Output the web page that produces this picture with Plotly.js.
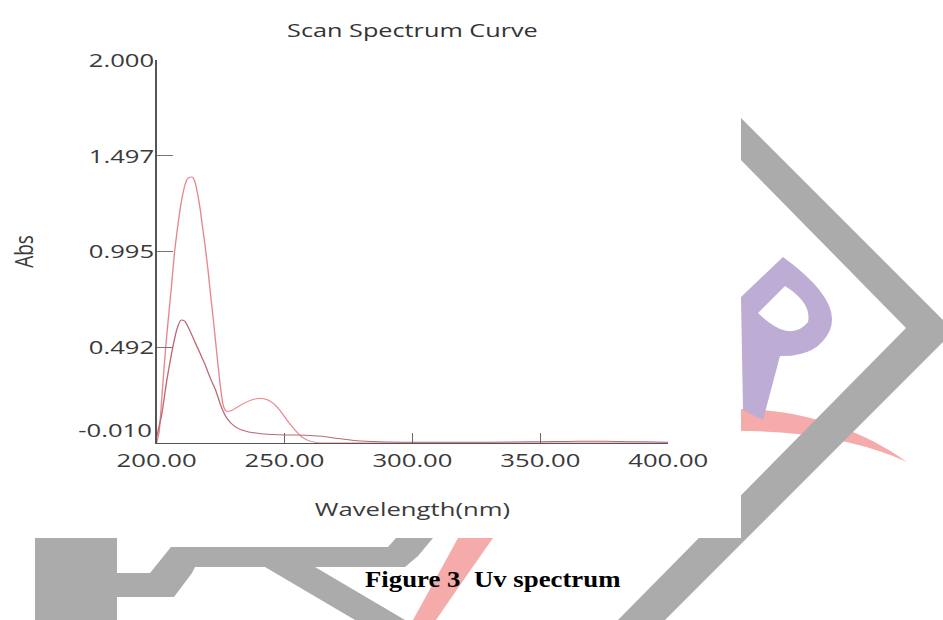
<!DOCTYPE html>
<html><head><meta charset="utf-8">
<script src="https://cdn.plot.ly/plotly-3.0.1.min.js"></script>
<style>
html,body{margin:0;padding:0;background:#fff;width:943px;height:620px;overflow:hidden;}
#wm{position:absolute;left:0;top:0;}
#box{position:absolute;left:0;top:0;width:741px;height:538px;background:#fff;overflow:hidden;}
#chart{position:absolute;left:0;top:0;width:549px;height:538px;transform:scaleX(1.35);transform-origin:0 0;}
#cap{position:absolute;left:365px;top:566px;font-family:"Liberation Serif","Times New Roman",serif;font-weight:bold;font-size:23.5px;white-space:pre;color:#000;transform:scaleX(1.14);transform-origin:0 0;}
</style></head>
<body>
<svg id="wm" width="943" height="620" viewBox="0 0 943 620">
  <path d="M741,409 C800,410 860,428 907,462 C860,440 800,431 741,431 Z" fill="#f6abab"/>
  <path fill-rule="evenodd" fill="#bdacd4" d="M741,297 L783,257 Q842,300 830,330 Q818,357 780,356 L763,420 L743,410 L741,297 Z M785,286 L758,313 Q790,344 808,322 Q812,303 785,286 Z"/>
  <path d="M741,118 L943,320 L943,342 L665,620 L618,620 L906,328 L741,160 Z" fill="#ababab"/>
  <rect x="35" y="538" width="82" height="82" fill="#ababab"/>
  <path d="M117,573 L150,573 L171,547 L388,547 L396,538 L433,538 L418,556 L405,567 L195,567 L192,573 L174,597 L117,597 Z" fill="#ababab"/>
  <path d="M265,567 L315,567 L405,620 L355,620 Z" fill="#ababab"/>
  <path d="M458,538 L493,538 Q460,585 436,620 L413,620 Q435,580 458,538 Z" fill="#f6abab"/>
</svg>
<div id="box"><div id="chart"></div></div>
<div id="cap">Figure 3  Uv spectrum</div>
<script>
// Series 1 (tall peak)
const wlA = [200,201,202,203,204,205,206,207,208,209,210,211,212,213,214,215,216,217,218,219,220,221,222,223,224,225,226,227,228,230,233,236,239,242,245,248,251,254,257,260,263,266,270,280,300,320,340,360,380,400];
const absA = [-0.01,0.05,0.22,0.40,0.56,0.70,0.84,0.99,1.10,1.20,1.28,1.34,1.375,1.385,1.385,1.36,1.30,1.22,1.12,1.02,0.91,0.78,0.66,0.53,0.40,0.28,0.19,0.16,0.155,0.165,0.19,0.21,0.222,0.222,0.205,0.165,0.11,0.06,0.02,0.0,-0.008,-0.01,-0.01,-0.01,-0.01,-0.01,-0.01,-0.01,-0.01,-0.01];
// Series 2 (lower peak)
const wlB = [200,202,204,206,208,209.5,211,213,215,217,219,221,223,225,227,229,232,236,240,245,250,255,260,265,270,275,280,290,300,320,340,350,360,370,380,390,400];
const absB = [0.02,0.14,0.32,0.47,0.59,0.635,0.63,0.58,0.52,0.46,0.40,0.33,0.27,0.19,0.13,0.095,0.065,0.048,0.04,0.035,0.032,0.032,0.03,0.025,0.015,0.007,0.0,-0.005,-0.006,-0.006,-0.005,-0.003,-0.002,-0.001,-0.002,-0.004,-0.006];
// Axis ticks
const xTickVals = [200,250,300,350,400];
const xTickText = ['200.00','250.00','300.00','350.00','400.00'];
const yTickVals = [-0.010,0.492,0.995,1.497,2.000];
const yTickText = ['-0.010','0.492','0.995','1.497','2.000'];

const font = 'Open Sans, Noto Sans, sans-serif';
const traces = [
  {x: wlA, y: absA, type:'scatter', mode:'lines', line:{color:'#e8868c', width:1, shape:'spline', smoothing:0.6}, hoverinfo:'skip'},
  {x: wlB, y: absB, type:'scatter', mode:'lines', line:{color:'#b96a72', width:1, shape:'spline', smoothing:0.6}, hoverinfo:'skip'}
];
const layout = {
  width: 549, height: 538,
  margin: {l:116, r:54, t:60, b:95},
  paper_bgcolor:'#fff', plot_bgcolor:'#fff',
  showlegend:false,
  font:{family:font, size:19, color:'#3a3a3a'},
  title:{text:'Scan Spectrum Curve', font:{family:font, size:18.7, color:'#333'}, xref:'paper', x:0.5, xanchor:'center', yref:'container', y:1-30/538, yanchor:'middle'},
  xaxis:{range:[200,400], tickvals:xTickVals, ticktext:xTickText, ticks:'inside', ticklen:10, tickcolor:'#666', tickwidth:1,
    showline:true, linecolor:'#555', linewidth:1, showgrid:false, zeroline:false, fixedrange:true,
    tickfont:{family:font, size:19, color:'#3a3a3a'},
    title:{text:'Wavelength(nm)', font:{family:font, size:19, color:'#3a3a3a'}, standoff:30}},
  yaxis:{range:[-0.010,2.000], tickvals:yTickVals, ticktext:yTickText.map((t,i)=> i===0 ? '' : t), ticks:'inside', ticklen:12, tickcolor:'#777', tickwidth:1,
    showline:true, linecolor:'#555', linewidth:1, showgrid:false, zeroline:false, fixedrange:true,
    ticklabelstandoff:-3,
    tickfont:{family:font, size:19, color:'#3a3a3a'},
    title:{text:'Abs', font:{family:font, size:19, color:'#3a3a3a'}, standoff:35}},
  annotations:[{text:yTickText[0], xref:'paper', x:0, xanchor:'right', xshift:-1, yref:'y', y:yTickVals[0], yanchor:'middle', yshift:13, showarrow:false, font:{family:font, size:19, color:'#3a3a3a'}}]
};
Plotly.newPlot('chart', traces, layout, {staticPlot:true, displayModeBar:false});
</script>
</body></html>
